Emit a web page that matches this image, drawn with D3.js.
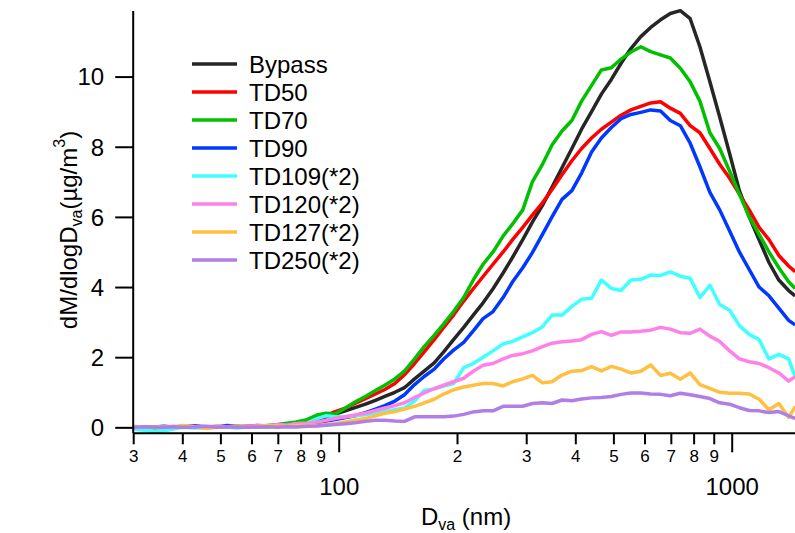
<!DOCTYPE html>
<html>
<head>
<meta charset="utf-8">
<script src="https://cdn.jsdelivr.net/npm/d3@7"></script>
<style>
  body { margin: 0; background: #fff; }
  svg { display: block; font-family: "Liberation Sans", Arial, sans-serif; }
</style>
</head>
<body>
<div id="chart"></div>
<script>
const WIDTH = 795;
const HEIGHT = 533;
const LEFT = 133.2;
const RIGHT = 796.3;
const TOP = 11;
const BOTTOM = 433.3;

// particle vacuum aerodynamic diameter, nm
const diameters = [30, 32, 34, 36, 38, 40, 43, 46, 49, 52, 55, 58, 62, 66, 70, 74, 78, 83, 88, 93, 98,
  104, 110, 117, 124, 131, 139, 147, 156, 165, 175, 185, 196, 208, 220, 233, 247, 262, 277, 294, 311,
  330, 349, 370, 392, 415, 440, 466, 494, 523, 554, 587, 622, 659, 698, 740, 784, 830, 880, 932, 988,
  1046, 1108, 1174, 1244, 1318, 1396, 1450];

const seriesNames = ['Bypass', 'TD50', 'TD70', 'TD90', 'TD109(*2)', 'TD120(*2)', 'TD127(*2)', 'TD250(*2)'];
const seriesColors = ['#262626', '#ff0000', '#00c000', '#0038ff', '#40ffff', '#ff80e6', '#ffbf40', '#b07ee6'];

const bypass = [0.02, 0.0, 0.01, -0.01, 0.0, 0.01, 0.0, 0.02, 0.01, 0.0, 0.02, 0.01, 0.03, 0.02, 0.05, 0.07, 0.1, 0.15, 0.22, 0.3, 0.38,
  0.47, 0.56, 0.66, 0.77, 0.88, 1.0,
  1.13, 1.38, 1.6, 1.84, 2.15, 2.5, 2.85, 3.2, 3.55, 3.95, 4.4, 4.85, 5.35, 5.85, 6.33, 6.85, 7.4, 7.95, 8.5, 9.0,
  9.5, 9.92, 10.38, 10.8, 11.14, 11.4, 11.62, 11.8, 11.88, 11.65, 10.85, 9.85, 8.85, 7.8, 6.75, 6.0, 5.35, 4.7, 4.2, 3.9, 3.75];
const td50 = [0.0, 0.01, 0.0, 0.02, 0.0, 0.01, 0.03, 0.0, 0.02, 0.04, 0.01, 0.03, 0.05, 0.04, 0.07, 0.1, 0.12, 0.2, 0.25, 0.35, 0.45,
  0.55, 0.68, 0.82, 0.95, 1.08, 1.25,
  1.5, 1.82, 2.15, 2.5, 2.85, 3.2, 3.6, 3.95, 4.3, 4.65, 5.0, 5.35, 5.7, 6.05, 6.4, 6.78, 7.2, 7.6, 7.95, 8.25,
  8.5, 8.7, 8.9, 9.05, 9.15, 9.25, 9.28, 9.1, 8.95, 8.6, 8.4, 7.95, 7.5, 7.1, 6.65, 6.2, 5.7, 5.35, 4.9, 4.6, 4.44];
const td70 = [0.02, 0.0, -0.02, 0.0, 0.01, 0.03, 0.0, -0.01, 0.02, 0.01, 0.03, 0.02, 0.04, 0.05, 0.08, 0.12, 0.15, 0.22, 0.35, 0.4, 0.38,
  0.55, 0.72, 0.88, 1.05, 1.2, 1.38,
  1.6, 1.95, 2.3, 2.62, 2.95, 3.3, 3.7, 4.2, 4.65, 5.0, 5.45, 5.8, 6.2, 7.0, 7.5, 8.05, 8.45, 8.75, 9.3, 9.75,
  10.19, 10.25, 10.5, 10.7, 10.85, 10.71, 10.62, 10.53, 10.24, 9.85, 9.3, 8.4, 7.95, 7.3, 6.65, 6.0, 5.5, 5.0, 4.55, 4.15, 3.96];
const td90 = [-0.02, 0.0, 0.01, 0.03, 0.0, 0.02, 0.04, 0.02, 0.0, 0.05, 0.03, 0.0, 0.02, 0.04, 0.03, 0.05, 0.04, 0.08, 0.1, 0.18, 0.22,
  0.28, 0.33, 0.42, 0.52, 0.62, 0.75,
  0.93, 1.22, 1.45, 1.66, 1.95, 2.2, 2.42, 2.75, 3.1, 3.3, 3.7, 4.15, 4.55, 4.98, 5.5, 6.0, 6.5, 6.75, 7.25, 7.85,
  8.25, 8.55, 8.8, 8.92, 8.98, 9.05, 9.02, 8.75, 8.6, 8.1, 7.43, 6.7, 6.2, 5.6, 5.0, 4.5, 4.0, 3.75, 3.4, 3.05, 2.92];
const td109 = [-0.05, -0.08, -0.12, -0.1, -0.05, 0.0, -0.02, 0.0, 0.03, 0.01, -0.02, 0.0, 0.03, 0.01, 0.04, 0.06, 0.1, 0.12, 0.25, 0.33, 0.3,
  0.3, 0.33, 0.36, 0.4, 0.45, 0.5,
  0.55, 0.75, 1.05, 1.1, 1.18, 1.25, 1.7, 1.82, 2.0, 2.18, 2.38, 2.45, 2.58, 2.7, 2.87, 3.2, 3.2, 3.45, 3.65, 3.68,
  4.2, 3.96, 3.9, 4.2, 4.22, 4.34, 4.33, 4.43, 4.31, 4.25, 3.7, 4.05, 3.5, 3.34, 2.9, 2.65, 2.5, 1.95, 2.08, 1.95, 1.44];
const td120 = [0.0, 0.02, 0.0, 0.01, 0.03, 0.0, 0.02, 0.01, 0.04, 0.02, 0.0, 0.03, 0.05, 0.04, 0.08, 0.06, 0.1, 0.12, 0.15, 0.2, 0.25,
  0.3, 0.35, 0.4, 0.48, 0.55, 0.62,
  0.7, 0.85, 0.98, 1.1, 1.2, 1.3, 1.4, 1.6, 1.77, 1.82, 1.95, 2.05, 2.1, 2.18, 2.3, 2.4, 2.44, 2.46, 2.5, 2.65,
  2.73, 2.62, 2.72, 2.72, 2.74, 2.77, 2.85, 2.8, 2.7, 2.68, 2.8, 2.6, 2.45, 2.18, 1.95, 1.87, 1.82, 1.7, 1.55, 1.32, 1.44];
const td127 = [0.03, 0.0, 0.02, 0.01, 0.0, 0.05, 0.02, -0.03, 0.0, 0.02, 0.04, 0.0, 0.02, 0.06, 0.04, 0.03, 0.05, 0.06, 0.05, 0.08, 0.1,
  0.15, 0.2, 0.25, 0.33, 0.4, 0.45,
  0.52, 0.6, 0.7, 0.8, 0.95, 1.07, 1.15, 1.2, 1.25, 1.25, 1.18, 1.3, 1.38, 1.48, 1.27, 1.3, 1.49, 1.6, 1.62, 1.73,
  1.61, 1.74, 1.66, 1.55, 1.6, 1.78, 1.48, 1.54, 1.37, 1.55, 1.22, 1.11, 1.0, 0.97, 0.97, 0.95, 0.8, 0.5, 0.68, 0.28, 0.59];
const td250 = [0.0, 0.02, 0.01, 0.0, 0.02, 0.0, 0.01, 0.03, 0.0, 0.02, 0.01, 0.0, 0.01, 0.02, 0.0, 0.02, 0.01, 0.03, 0.04, 0.06, 0.08,
  0.1, 0.13, 0.17, 0.2, 0.2, 0.18,
  0.17, 0.3, 0.3, 0.3, 0.3, 0.32, 0.37, 0.44, 0.47, 0.47, 0.6, 0.6, 0.6, 0.68, 0.7, 0.68, 0.78, 0.76, 0.81, 0.84,
  0.85, 0.88, 0.94, 0.98, 0.98, 0.95, 0.94, 0.9, 0.97, 0.93, 0.88, 0.82, 0.7, 0.66, 0.56, 0.48, 0.47, 0.42, 0.45, 0.33, 0.25];

const seriesValues = [bypass, td50, td70, td90, td109, td120, td127, td250];

const yTicks = [0, 2, 4, 6, 8, 10];
const xMinorTicks = [30, 40, 50, 60, 70, 80, 90, 200, 300, 400, 500, 600, 700, 800, 900];
const xMinorLabels = ['3', '4', '5', '6', '7', '8', '9', '2', '3', '4', '5', '6', '7', '8', '9'];
const xMajorTicks = [100, 1000];

let svg, xScale, yScale;

function buildScales() {
  xScale = d3.scaleLog().domain([30, 1460]).range([LEFT, RIGHT]);
  yScale = d3.scaleLinear().domain([-0.17, 11.87]).range([BOTTOM, TOP]);
}

function buildAxes() {
  // x axis: minor ticks with single digit labels, then the decades
  const xMinor = d3.axisBottom(xScale)
    .tickValues(xMinorTicks)
    .tickSize(11)
    .tickSizeOuter(0)
    .tickFormat((d, i) => xMinorLabels[i]);

  const xMajor = d3.axisBottom(xScale)
    .tickValues(xMajorTicks)
    .tickSize(19)
    .tickSizeOuter(0)
    .tickFormat(d3.format('d'));

  const gMinor = svg.append('g')
    .attr('class', 'xAxis')
    .attr('transform', `translate(0, ${BOTTOM})`)
    .call(xMinor);
  gMinor.selectAll('text').attr('font-size', 17).attr('dy', 0).attr('y', 29);

  const gMajor = svg.append('g')
    .attr('transform', `translate(0, ${BOTTOM})`)
    .call(xMajor);
  gMajor.select('.domain').remove();
  gMajor.selectAll('text').attr('font-size', 24).attr('dy', 0).attr('y', 62);

  const yAxis = d3.axisLeft(yScale)
    .tickValues(yTicks)
    .tickSize(18)
    .tickSizeOuter(0)
    .tickPadding(11);

  const gy = svg.append('g')
    .attr('transform', `translate(${LEFT}, 0)`)
    .call(yAxis);
  gy.selectAll('text').attr('font-size', 24).attr('dy', '0.35em');

  svg.selectAll('.domain, .tick line')
    .attr('stroke', '#000')
    .attr('stroke-width', 2);
  svg.selectAll('.tick text').attr('fill', '#000').attr('font-family', null);
  // axis lines run to the frame edge on the right
  gMinor.select('.domain').attr('d', `M${LEFT},0H${WIDTH + 2}`);
  gy.select('.domain').attr('d', `M0,${BOTTOM}V${TOP}`);
}

function buildTitles() {
  const xt = svg.append('text')
    .attr('x', 466)
    .attr('y', 525)
    .attr('text-anchor', 'middle')
    .attr('font-size', 24);
  xt.append('tspan').text('D');
  xt.append('tspan').attr('font-size', 16).attr('dy', 5).text('va');
  xt.append('tspan').attr('dy', -5).text(' (nm)');

  const yt = svg.append('text')
    .attr('transform', 'translate(77, 230) rotate(-90)')
    .attr('text-anchor', 'middle')
    .attr('font-size', 24);
  yt.append('tspan').text('dM/dlogD');
  yt.append('tspan').attr('font-size', 16).attr('dy', 5).text('va');
  yt.append('tspan').attr('dy', -5).text('(µg/m');
  yt.append('tspan').attr('font-size', 16).attr('dy', -12).text('3');
  yt.append('tspan').attr('dy', 12).text(')');
}

function buildDataLines() {
  svg.append('clipPath')
    .attr('id', 'plotClip')
    .append('rect')
    .attr('x', LEFT)
    .attr('y', 0)
    .attr('width', WIDTH - LEFT)
    .attr('height', BOTTOM);

  const line = d3.line()
    .x((d) => xScale(d[0]))
    .y((d) => yScale(d[1]));

  svg.append('g')
    .attr('class', 'lineGroup')
    .attr('clip-path', 'url(#plotClip)')
    .selectAll('path')
    .data(seriesValues)
    .enter()
    .append('path')
    .attr('d', (vals) => line(diameters.map((dia, i) => [dia, vals[i]])))
    .attr('fill', 'none')
    .attr('stroke', (d, i) => seriesColors[i])
    .attr('stroke-width', 3.5)
    .attr('stroke-linejoin', 'round');
}

function buildLegend() {
  const rows = svg.append('g')
    .attr('class', 'legend')
    .selectAll('g')
    .data(seriesNames)
    .enter()
    .append('g')
    .attr('transform', (d, i) => `translate(192, ${64 + i * 28})`);

  rows.append('line')
    .attr('x1', 0)
    .attr('x2', 45)
    .attr('stroke', (d, i) => seriesColors[i])
    .attr('stroke-width', 3.5);

  rows.append('text')
    .attr('x', 57)
    .attr('dy', '0.36em')
    .attr('font-size', 24)
    .text((d) => d);
}

function buildChart(selector) {
  svg = d3.select(selector).append('svg')
    .attr('width', WIDTH)
    .attr('height', HEIGHT);

  buildScales();
  buildDataLines();
  buildAxes();
  buildTitles();
  buildLegend();
}

buildChart('#chart');
</script>
</body>
</html>
